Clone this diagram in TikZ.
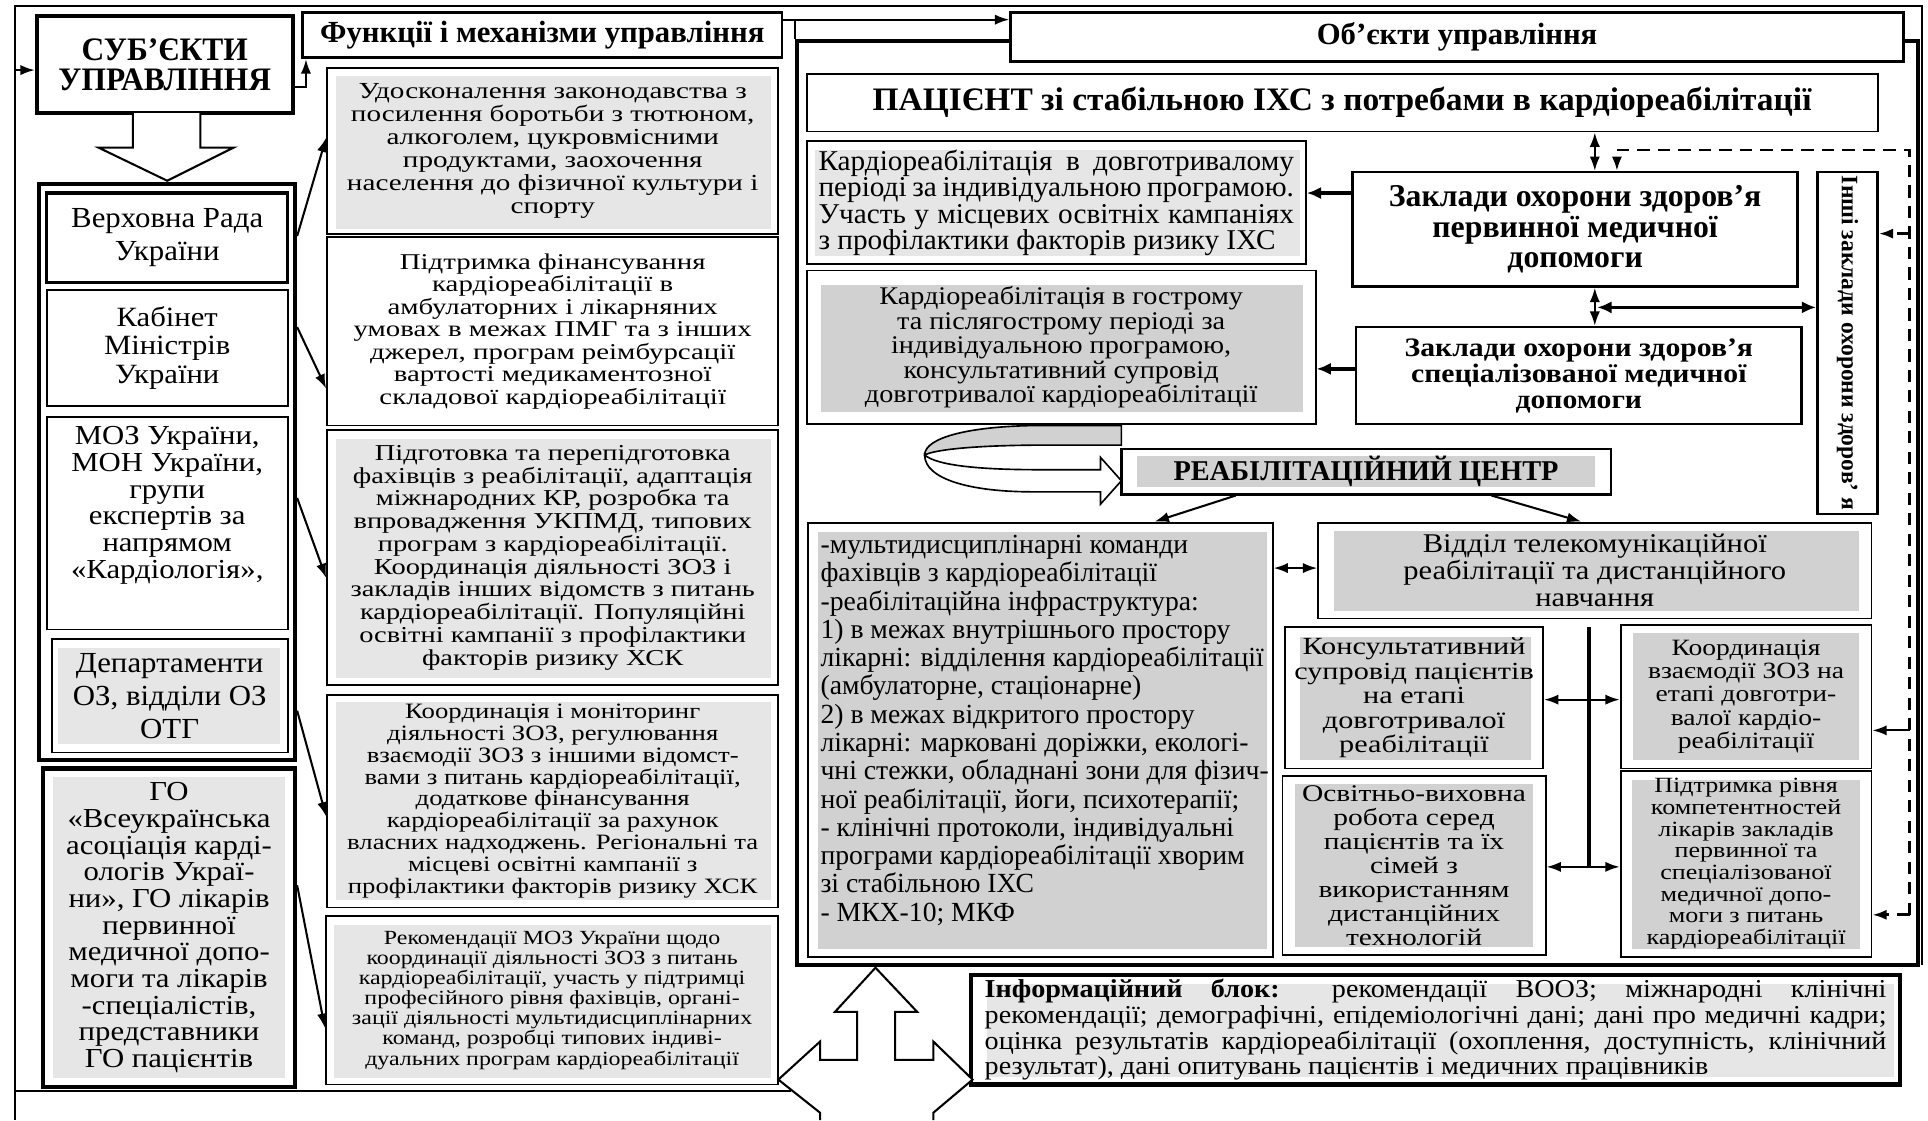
\documentclass[tikz,border=0pt]{standalone}
\usepackage{fontspec}
\setmainfont{Liberation Serif}
\usetikzlibrary{arrows.meta}
\definecolor{gL}{HTML}{E6E6E6}
\definecolor{gD}{HTML}{D1D1D1}
\newcommand\ff[3]{\fontsize{#1}{#2}\selectfont\addfontfeature{FakeStretch=#3}}
\newcommand\bx[7]{\node[#6, inner sep=0pt, align=center, minimum width={(#4-#2)*0.6pt}, minimum height={(#5-#3)*0.6pt}] (#1) at ({(#2+#4)/2},{(#3+#5)/2}) {#7};}
\newcommand\gf[5]{\fill[#5] (#1,#2) rectangle (#3,#4);}
\begin{document}
\begin{tikzpicture}[x=0.6pt,y=-0.6pt,
 bxn/.style={draw, line width=0.9pt},
 bxk/.style={draw, line width=2pt},
 ln/.style={line width=1pt},
 arr/.style={line width=1pt, -{Latex[length=7pt,width=5pt]}},
 arrb/.style={line width=1pt, {Latex[length=7pt,width=5pt]}-{Latex[length=7pt,width=5pt]}},
 arrT/.style={line width=1.8pt, -{Latex[length=7pt,width=6pt]}},
 arrbT/.style={line width=1.8pt, {Latex[length=7pt,width=6pt]}-{Latex[length=7pt,width=6pt]}},
 dsh/.style={line width=1.3pt, dash pattern=on 6pt off 4pt},
]
\useasboundingbox (0,0) rectangle (1568,911);
\fill[white] (0,0) rectangle (1568,911);

% ---------- outer loop ----------
\draw[ln] (12,911) -- (12,5) -- (1563,5) -- (1563,785);
\draw[ln] (12,887) -- (643,887);

% ---------- left column ----------
\bx{S}{30}{13}{238}{92}{bxk, font=\bfseries\ff{16}{14.5}{0.96}}{СУБ’ЄКТИ\\УПРАВЛІННЯ}
\draw[arr] (12,57) -- (S.west |- 0,57);
\draw[line width=1pt, fill=white] (108,92) -- (108,120) -- (80,120) -- (136,147) -- (190,120) -- (163,120) -- (163,92);

\bx{BL}{32}{150}{240}{618}{bxk}{}
\bx{L1}{38}{157}{234}{230}{draw, line width=1.6pt, font=\ff{14.2}{16.2}{1.06}}{Верховна Рада\\України}
\bx{L2}{38}{236}{234}{330}{bxn, font=\ff{13.6}{13.8}{1.1}}{Кабінет\\Міністрів\\України}
\bx{L3}{38}{339}{234}{512}{bxn}{}
\node[font=\ff{13.4}{13}{1.12}, align=center, inner sep=0pt] (L3t) at (136,411) {МОЗ України,\\МОН України,\\групи\\експертів за\\напрямом\\«Кардіологія»,};
\gf{47}{527}{228}{605}{gL}
\bx{L4}{42}{520}{234}{612}{bxn, font=\ff{14.2}{16.2}{1.06}}{Департаменти\\ОЗ, відділи ОЗ\\ОТГ}
\gf{43}{632}{232}{877}{gL}
\bx{L5}{35}{625}{240}{884}{bxk, font=\ff{13.4}{13}{1.12}}{ГО\\«Всеукраїнська\\асоціація карді-\\ологів Украї-\\ни», ГО лікарів\\первинної\\медичної допо-\\моги та лікарів\\-спеціалістів,\\представники\\ГО пацієнтів}

% ---------- middle column ----------
\bx{F}{246}{10}{636}{47}{draw, line width=1.4pt, font=\bfseries\ff{15}{15}{1}}{Функції і механізми управління}
\draw[arr] (S.east |- 0,71) -| ([xshift=2.4pt]F.south west);

\gf{273}{62}{627}{186}{gL}
\bx{M1}{266}{55}{633}{190}{bxn, font=\ff{11.2}{11.2}{1.27}}{Удосконалення законодавства з\\посилення боротьби з тютюном,\\алкоголем, цукровмісними\\продуктами, заохочення\\населення до фізичної культури і\\спорту}
\bx{M2}{266}{193}{633}{346}{bxn, font=\ff{11}{11}{1.28}}{Підтримка фінансування\\кардіореабілітації в\\амбулаторних і лікарняних\\умовах в межах ПМГ та з інших\\джерел, програм реімбурсації\\вартості медикаментозної\\складової кардіореабілітації}
\gf{273}{357}{627}{551}{gL}
\bx{M3}{266}{350}{633}{557}{bxn, font=\ff{11.1}{11.1}{1.25}}{Підготовка та перепідготовка\\фахівців з реабілітації, адаптація\\міжнародних КР, розробка та\\впровадження УКПМД, типових\\програм з кардіореабілітації.\\Координація діяльності ЗОЗ і\\закладів інших відомств з питань\\кардіореабілітації. Популяційні\\освітні кампанії з профілактики\\факторів ризику ХСК}
\gf{273}{571}{627}{732}{gL}
\bx{M4}{266}{565}{633}{738}{bxn, font=\ff{10.7}{10.7}{1.22}}{Координація і моніторинг\\діяльності ЗОЗ, регулювання\\взаємодії ЗОЗ з іншими відомст-\\вами з питань кардіореабілітації,\\додаткове фінансування\\кардіореабілітації за рахунок\\власних надходжень. Регіональні та\\місцеві освітні кампанії з\\профілактики факторів ризику ХСК}
\gf{272}{752}{627}{877}{gL}
\bx{M5}{265}{745}{633}{882}{bxn, font=\ff{9.8}{9.8}{1.19}}{Рекомендації МОЗ України щодо\\координації діяльності ЗОЗ з питань\\кардіореабілітації, участь у підтримці\\професійного рівня фахівців, органі-\\зації діяльності мультидисциплінарних\\команд, розробці типових індиві-\\дуальних програм кардіореабілітації}

\draw[arr] (BL.east |- 0,192) -- (M1.west |- 0,112);
\draw[arr] (BL.east |- 0,266) -- (M2.west |- 0,316);
\draw[arr] (BL.east |- 0,405) -- (M3.west |- 0,470);
\draw[arr] (BL.east |- 0,578) -- (M4.west |- 0,664);
\draw[arr] (L5.east |- 0,720) -- (M5.west |- 0,836);

% ---------- objects frame ----------
\bx{OF}{648}{33}{1560}{785}{bxk}{}
\bx{O}{822}{10}{1548}{50}{draw, fill=white, line width=1.4pt, font=\bfseries\ff{15}{15}{1}}{Об’єкти управління}
\draw[ln] (F.east |- 0,16) -- (OF.north west |- 0,16) -- (OF.north west);
\draw[arr] (OF.north west |- 0,16) -- (O.west |- 0,16);

\bx{P}{656}{60}{1527}{107}{bxn, font=\bfseries\ff{16}{16}{1.02}}{ПАЦІЄНТ зі стабільною ІХС з потребами в кардіореабілітації}

\gf{663}{122}{1057}{208}{gL}
\bx{K1}{656}{115}{1062}{215}{bxn, font=\ff{14}{12.8}{1.02}}{\makebox[232pt][s]{Кардіореабілітація в довготривалому}\\\makebox[232pt][s]{періоді за індивідуальною програмою.}\\\makebox[232pt][s]{Участь у місцевих освітніх кампаніях}\\\makebox[232pt][l]{з профілактики факторів ризику ІХС}}

\bx{Z1}{1100}{140}{1462}{233}{draw, line width=1.2pt, font=\bfseries\ff{15.5}{15}{1}}{Заклади охорони здоров’я\\первинної медичної\\допомоги}
\bx{I}{1478}{140}{1527}{418}{draw, line width=1.2pt}{}
\node[rotate=-90, font=\bfseries\ff{11.5}{12}{1}, inner sep=0pt] (It) at (I.center) {Інші заклади охорони здоров’ я};

\gf{668}{232}{1060}{335}{gD}
\bx{K2}{656}{220}{1070}{345}{bxn, font=\ff{12.4}{12}{1.11}}{Кардіореабілітація в гострому\\та післягострому періоді за\\індивідуальною програмою,\\консультативний супровід\\довготривалої кардіореабілітації}
\bx{Z2}{1103}{266}{1465}{345}{draw, line width=1.2pt, font=\bfseries\ff{13}{12.6}{1.115}}{Заклади охорони здоров’я\\спеціалізованої медичної\\допомоги}

\gf{925}{371}{1297}{396}{gD}
\bx{R}{912}{365}{1310}{402}{draw, line width=1.2pt, font=\bfseries\ff{14}{14}{0.99}}{РЕАБІЛІТАЦІЙНИЙ ЦЕНТР}

\gf{665}{433}{1030}{772}{gD}
\bx{B1}{657}{425}{1035}{778}{bxn}{}
\node[anchor=west, align=left, inner sep=0pt, font=\ff{13.5}{13.8}{1}] (B1t) at (667,594) {-мультидисциплінарні команди\\фахівців з кардіореабілітації\\-реабілітаційна інфраструктура:\\1) в межах внутрішнього простору\\лікарні: відділення кардіореабілітації\\(амбулаторне, стаціонарне)\\2) в межах відкритого простору\\лікарні: марковані доріжки, екологі-\\чні стежки, обладнані зони для фізич-\\ної реабілітації, йоги, психотерапії;\\- клінічні протоколи, індивідуальні\\програми кардіореабілітації хворим\\зі стабільною ІХС\\- МКХ-10; МКФ};

\gf{1085}{432}{1512}{497}{gD}
\bx{V}{1072}{425}{1522}{503}{bxn, font=\ff{13.2}{13.2}{1.13}}{Відділ телекомунікаційної\\реабілітації та дистанційного\\навчання}
\gf{1057}{518}{1245}{618}{gD}
\bx{C1}{1045}{510}{1255}{625}{bxn, font=\ff{12}{12}{1.23}}{Консультативний\\супровід пацієнтів\\на етапі\\довготривалої\\реабілітації}
\gf{1053}{638}{1247}{770}{gD}
\bx{C2}{1043}{631}{1257}{777}{bxn, font=\ff{11.7}{11.7}{1.23}}{Освітньо-виховна\\робота серед\\пацієнтів та їх\\сімей з\\використанням\\дистанційних\\технологій}
\gf{1328}{515}{1512}{618}{gD}
\bx{C3}{1318}{508}{1522}{625}{bxn, font=\ff{11.4}{11.4}{1.18}}{Координація\\взаємодії ЗОЗ на\\етапі довготри-\\валої кардіо-\\реабілітації}
\gf{1327}{634}{1513}{772}{gD}
\bx{C4}{1318}{627}{1522}{778}{bxn, font=\ff{10.6}{10.6}{1.2}}{Підтримка рівня\\компетентностей\\лікарів закладів\\первинної та\\спеціалізованої\\медичної допо-\\моги з питань\\кардіореабілітації}

% info block
\gf{803}{800}{1540}{876}{gL}
\bx{IN}{790}{793}{1545}{882}{bxk, font=\ff{12.6}{11.4}{1.09}}{\makebox[440pt][s]{\textbf{Інформаційний блок:} рекомендації ВООЗ; міжнародні клінічні}\\\makebox[440pt][s]{рекомендації; демографічні, епідеміологічні дані; дані про медичні кадри;}\\\makebox[440pt][s]{оцінка результатів кардіореабілітації (охоплення, доступність, клінічний}\\\makebox[440pt][l]{результат), дані опитувань пацієнтів і медичних працівників}}

% ---------- connectors right ----------
\draw[arrb] (P.south -| 1297,0) -- (Z1.north -| 1297,0);
\draw[arrb] (Z1.south -| 1297,0) -- (Z2.north -| 1297,0);
\draw[arrbT] (1299,250) -- (I.west |- 0,250);
\draw[arrT] (Z1.west |- 0,157) -- (K1.east |- 0,157);
\draw[arrT] (Z2.west |- 0,300) -- (K2.east |- 0,300);
\coordinate (dtop) at (1553,122);
\coordinate (dbot) at (1553,744);
\draw[dsh, -{Latex[length=7pt,width=5pt]}] (dbot) -- (dtop) -| (Z1.north -| 1315,0);
\draw[dsh, -{Latex[length=7pt,width=5pt]}] (1553,190) -- (I.east |- 0,190);
\draw[arr] (1553,594) -- (C3.east |- 0,594);
\draw[dsh, -{Latex[length=7pt,width=5pt]}] (dbot) -- (C4.east |- dbot);

\draw[arr] (R.south -| 1005,0) -- (B1.north -| 939,0);
\draw[arr] (R.south -| 1213,0) -- (V.north -| 1286,0);
\draw[arrb] (B1.east |- 0,462) -- (V.west |- 0,462);
\draw[line width=1.8pt] (V.south -| 1292,0) ++(0,6) -- (1292,706);
\draw[arrb] (C1.east |- 0,569) -- (C3.west |- 0,569);
\draw[arrb] (C2.east |- 0,705) -- (C4.west |- 0,705);

% curved ribbon arrow
\draw[line width=0.8pt, fill=gD] (912,346) -- (850,346) .. controls (788,346) and (752,356) .. (752,370) .. controls (762,365) and (800,362) .. (850,362) -- (912,362) -- cycle;
\draw[line width=0.8pt, fill=white] (752,370) .. controls (752,390) and (790,400) .. (840,400) -- (895,400) -- (895,410) -- (912,391) -- (895,372) -- (895,382) -- (845,382) .. controls (800,382) and (762,379) .. (752,370) -- cycle;

% three-way hollow arrow
\draw[line width=1pt, fill=white] (667,911) -- (667,905) -- (633,878) -- (667,847) -- (667,862) -- (697,862) -- (697,823) -- (679,823) -- (712,787) -- (746,823) -- (728,823) -- (728,862) -- (759,862) -- (759,847) -- (791,878) -- (759,905) -- (759,911);
\end{tikzpicture}
\end{document}
